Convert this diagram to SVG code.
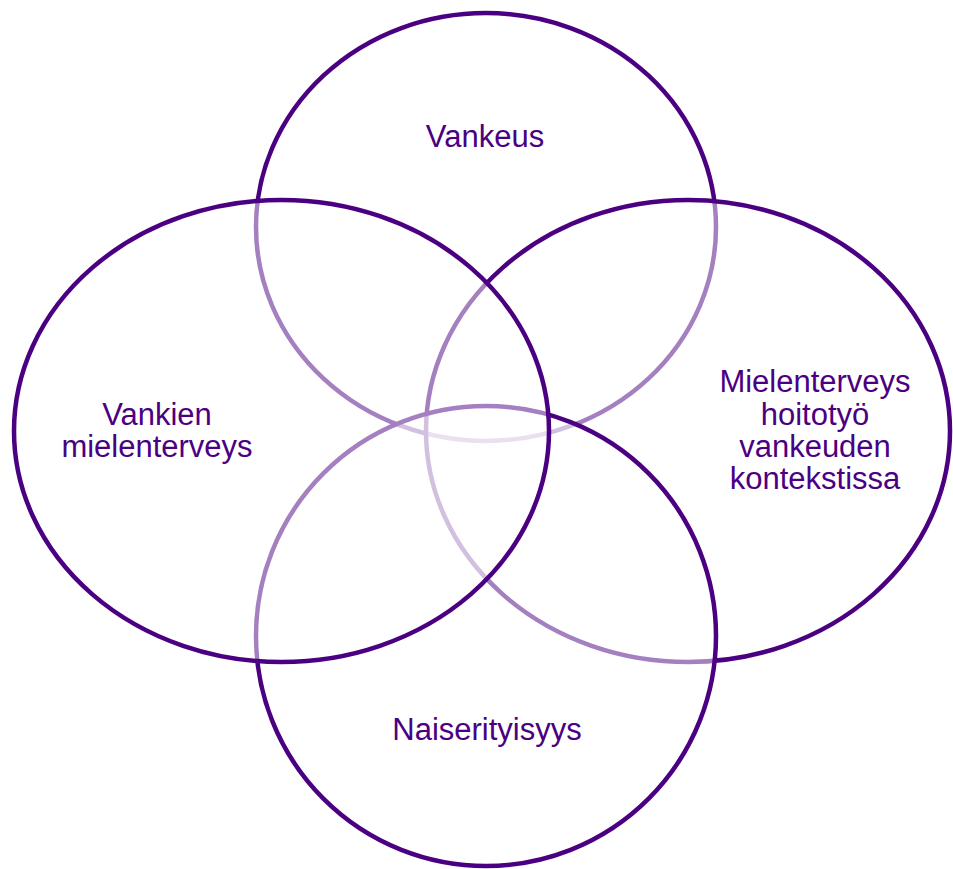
<svg xmlns="http://www.w3.org/2000/svg" width="953" height="869" viewBox="0 0 953 869">
<style>
.c{fill:#ffffff;fill-opacity:0.5;stroke:#4B0082;stroke-width:4.5}
.t{font-family:"Liberation Sans",Arial,sans-serif;font-size:31px;fill:#4B0082;text-anchor:middle}
</style>
<rect width="953" height="869" fill="#ffffff"/>
<g id="top"><ellipse class="c" cx="486" cy="227" rx="230" ry="214"/></g>
<g id="right"><ellipse class="c" cx="688" cy="431" rx="262" ry="231"/></g>
<g id="bottom"><ellipse class="c" cx="486" cy="636" rx="230" ry="230"/></g>
<g id="left"><ellipse class="c" cx="281.5" cy="431" rx="267.5" ry="231"/></g>
<g id="connectors"/>
<g id="labels">
<text class="t" x="485" y="147">Vankeus</text>
<text class="t" x="157" y="425">Vankien</text>
<text class="t" x="157" y="457">mielenterveys</text>
<text class="t" x="815" y="392">Mielenterveys</text>
<text class="t" x="815" y="425">hoitotyö</text>
<text class="t" x="815" y="457">vankeuden</text>
<text class="t" x="815" y="489">kontekstissa</text>
<text class="t" x="487" y="740">Naiserityisyys</text>
</g>
</svg>
